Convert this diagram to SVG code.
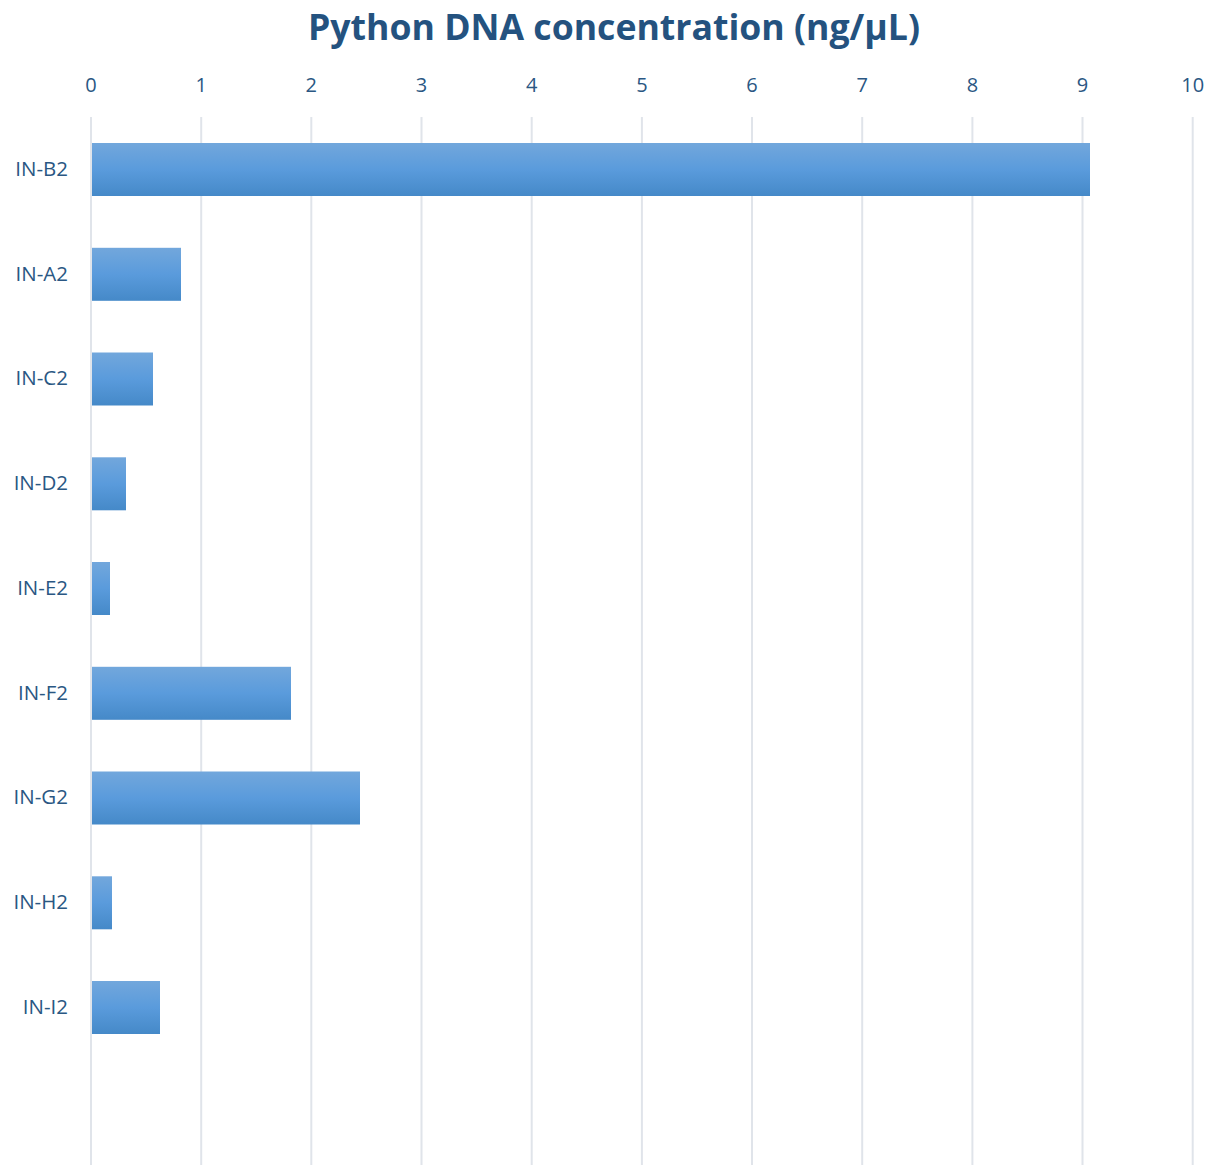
<svg xmlns="http://www.w3.org/2000/svg" width="1230" height="1167" viewBox="0 0 1230 1167">
<defs>
<linearGradient id="barGrad" x1="0" y1="0" x2="0" y2="1">
<stop offset="0" stop-color="#72a7dc"/>
<stop offset="0.5" stop-color="#5a9bdc"/>
<stop offset="1" stop-color="#4589c8"/>
</linearGradient>
<style>
.grid{stroke:#e0e4ea;stroke-width:2}
.bar{fill:url(#barGrad)}
.tick{font-family:"Open Sans","Liberation Sans",sans-serif;font-size:20px;fill:#2a5783;text-anchor:middle}
.lbl{font-family:"Open Sans","Liberation Sans",sans-serif;font-size:20.5px;fill:#2a5783;text-anchor:end}
.title{font-family:"Open Sans","Liberation Sans",sans-serif;font-size:35px;font-weight:bold;fill:#24527f;text-anchor:middle}
</style>
</defs>
<rect width="1230" height="1167" fill="#ffffff"/>
<text class="title" x="614" y="40" textLength="612" lengthAdjust="spacingAndGlyphs">Python DNA concentration (ng/µL)</text>
<g id="gridlines">
<line class="grid" x1="91" y1="117" x2="91" y2="1165"/>
<line class="grid" x1="201.2" y1="117" x2="201.2" y2="1165"/>
<line class="grid" x1="311.3" y1="117" x2="311.3" y2="1165"/>
<line class="grid" x1="421.5" y1="117" x2="421.5" y2="1165"/>
<line class="grid" x1="531.7" y1="117" x2="531.7" y2="1165"/>
<line class="grid" x1="641.9" y1="117" x2="641.9" y2="1165"/>
<line class="grid" x1="752" y1="117" x2="752" y2="1165"/>
<line class="grid" x1="862.2" y1="117" x2="862.2" y2="1165"/>
<line class="grid" x1="972.4" y1="117" x2="972.4" y2="1165"/>
<line class="grid" x1="1082.5" y1="117" x2="1082.5" y2="1165"/>
<line class="grid" x1="1192.7" y1="117" x2="1192.7" y2="1165"/>
</g>
<g id="axis-ticks">
<text class="tick" x="91" y="92">0</text>
<text class="tick" x="201.2" y="92">1</text>
<text class="tick" x="311.3" y="92">2</text>
<text class="tick" x="421.5" y="92">3</text>
<text class="tick" x="531.7" y="92">4</text>
<text class="tick" x="641.9" y="92">5</text>
<text class="tick" x="752" y="92">6</text>
<text class="tick" x="862.2" y="92">7</text>
<text class="tick" x="972.4" y="92">8</text>
<text class="tick" x="1082.5" y="92">9</text>
<text class="tick" x="1192.7" y="92">10</text>
</g>
<g id="bar-B2"><rect class="bar" x="92" y="143" width="998" height="53"/><text class="lbl" x="68" y="176">IN-B2</text></g>
<g id="bar-A2"><rect class="bar" x="92" y="247.8" width="89" height="53"/><text class="lbl" x="68" y="280.5">IN-A2</text></g>
<g id="bar-C2"><rect class="bar" x="92" y="352.5" width="61" height="53"/><text class="lbl" x="68" y="385.3">IN-C2</text></g>
<g id="bar-D2"><rect class="bar" x="92" y="457.3" width="34" height="53"/><text class="lbl" x="68" y="490">IN-D2</text></g>
<g id="bar-E2"><rect class="bar" x="92" y="562" width="18" height="53"/><text class="lbl" x="68" y="594.8">IN-E2</text></g>
<g id="bar-F2"><rect class="bar" x="92" y="666.8" width="199" height="53"/><text class="lbl" x="68" y="699.5">IN-F2</text></g>
<g id="bar-G2"><rect class="bar" x="92" y="771.5" width="268" height="53"/><text class="lbl" x="68" y="804.3">IN-G2</text></g>
<g id="bar-H2"><rect class="bar" x="92" y="876.3" width="20" height="53"/><text class="lbl" x="68" y="909">IN-H2</text></g>
<g id="bar-I2"><rect class="bar" x="92" y="981" width="68" height="53"/><text class="lbl" x="68" y="1013.8">IN-I2</text></g>
</svg>
